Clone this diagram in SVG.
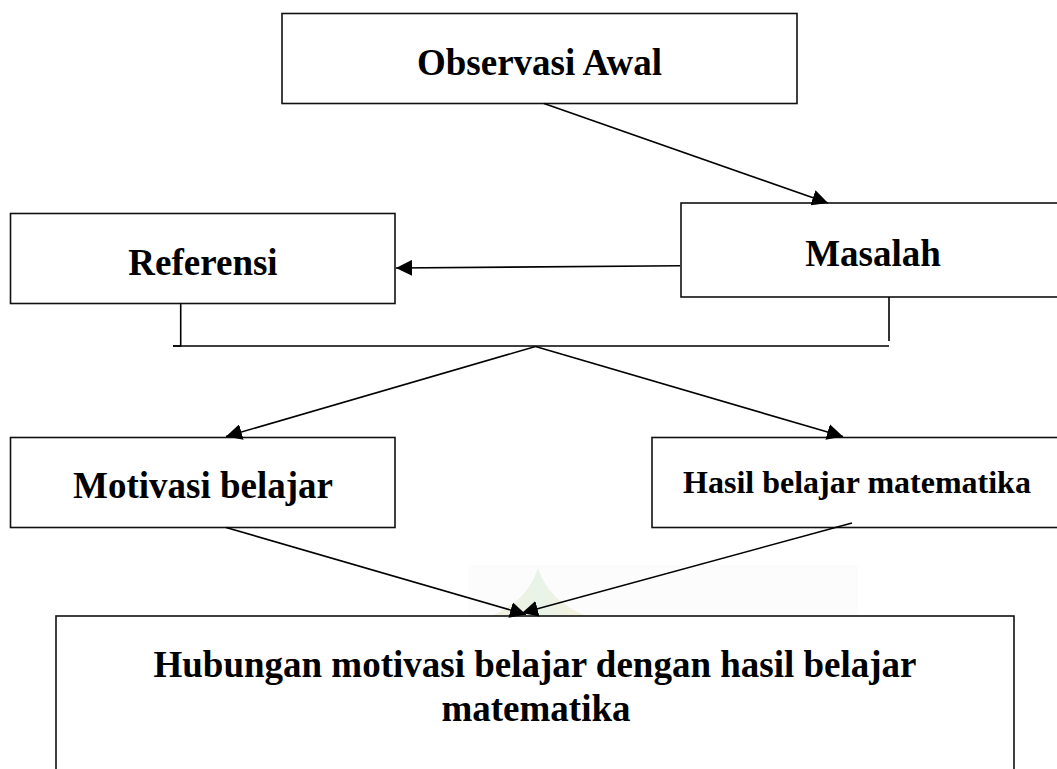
<svg xmlns="http://www.w3.org/2000/svg" width="1057" height="769" viewBox="0 0 1057 769">
<defs>
<style>
.box{fill:#fff;stroke:#111;stroke-width:1.6}
.lbl{font-family:"Liberation Serif","Times New Roman",serif;font-weight:bold;fill:#000;text-anchor:middle}
.con{fill:none;stroke:#000;stroke-width:1.6}
</style>
<marker id="ah" markerUnits="userSpaceOnUse" markerWidth="18" markerHeight="16" refX="16" refY="8" orient="auto">
<path d="M0,0 L16,8 L0,16 Z" fill="#000"/>
</marker>
<linearGradient id="wm" x1="0" y1="0" x2="1" y2="0">
<stop offset="0" stop-color="#ece8c0"/>
<stop offset="0.5" stop-color="#d8ecd8"/>
<stop offset="1" stop-color="#f1e8c4"/>
</linearGradient>
</defs>
<rect width="1057" height="769" fill="#fff"/>
<g id="watermark">
<rect x="468" y="565" width="390" height="51" fill="#fcfcfc"/>
<path d="M492,616 Q528,600 538,568 Q548,600 586,616 Z" fill="url(#wm)" opacity="0.55"/>
</g>
<g id="n-observasi">
<rect class="box" x="282" y="13.5" width="515" height="90"/>
<text class="lbl" x="539.5" y="75" font-size="37">Observasi Awal</text>
</g>
<g id="n-masalah">
<rect class="box" x="681" y="203" width="385" height="94"/>
<text class="lbl" x="873" y="266" font-size="37">Masalah</text>
</g>
<g id="n-referensi">
<rect class="box" x="10.5" y="213.5" width="384.5" height="90"/>
<text class="lbl" x="203" y="275" font-size="37">Referensi</text>
</g>
<g id="n-motivasi">
<rect class="box" x="10.5" y="437.5" width="384.5" height="90"/>
<text class="lbl" x="203" y="498" font-size="37">Motivasi belajar</text>
</g>
<g id="n-hasil">
<rect class="box" x="652" y="437.5" width="410" height="90"/>
<text class="lbl" x="857" y="493" font-size="32">Hasil belajar matematika</text>
</g>
<g id="n-hubungan">
<rect class="box" x="56" y="616" width="958" height="170"/>
<text class="lbl" x="535" y="677" font-size="37">Hubungan motivasi belajar dengan hasil belajar</text>
<text class="lbl" x="536" y="721" font-size="37">matematika</text>
</g>
<g id="connectors">
<line class="con" x1="544" y1="103.5" x2="828" y2="203" marker-end="url(#ah)"/>
<line class="con" x1="680" y1="265.7" x2="396" y2="268" marker-end="url(#ah)"/>
<polyline class="con" points="180.7,303.5 180.7,346 173,346"/>
<line class="con" x1="173" y1="346" x2="889" y2="346"/>
<line class="con" x1="889" y1="297" x2="889" y2="341"/>
<line class="con" x1="535.5" y1="346.5" x2="226" y2="436.5" marker-end="url(#ah)"/>
<line class="con" x1="535.5" y1="346.5" x2="843" y2="436.5" marker-end="url(#ah)"/>
<line class="con" x1="226" y1="527.5" x2="526" y2="614.5" marker-end="url(#ah)"/>
<line class="con" x1="852" y1="523" x2="522" y2="613" marker-end="url(#ah)"/>
</g>
</svg>
